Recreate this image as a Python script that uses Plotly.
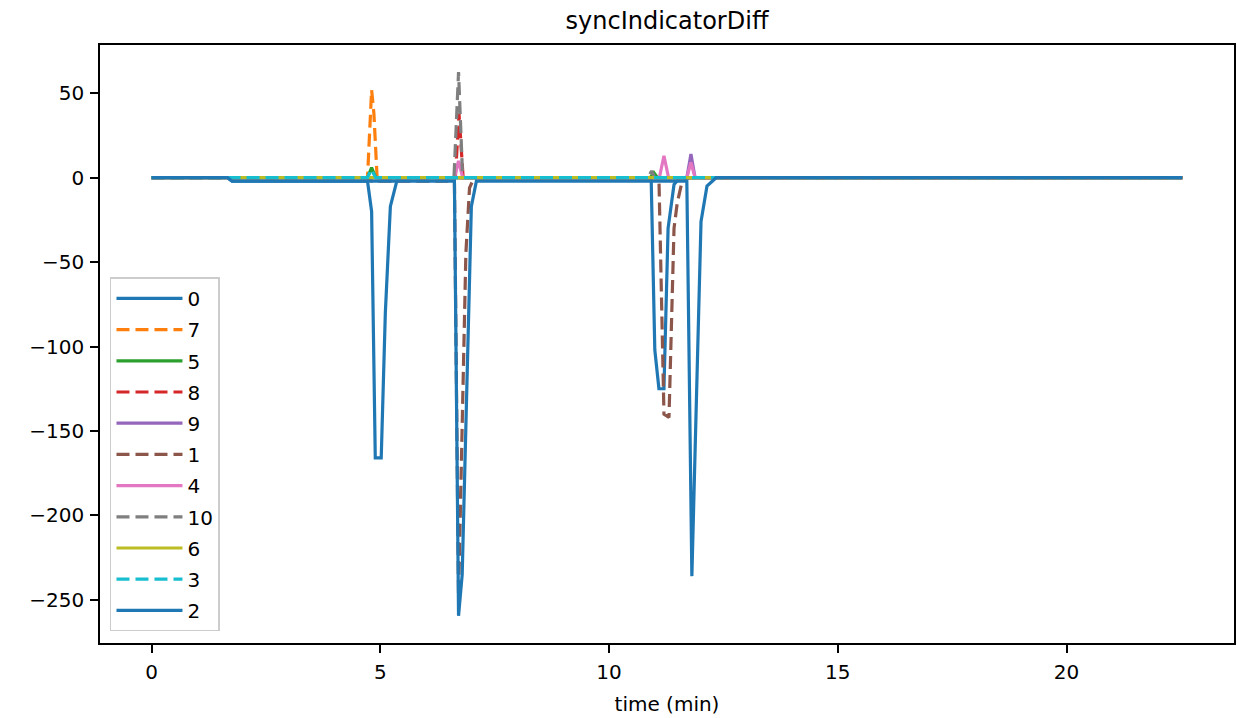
import plotly.graph_objects as go

# ---- data (time in minutes, breakpoints) ----
names = ["0", "7", "5", "8", "9", "1", "4", "10", "6", "3", "2"]

t_0 = [0, 1.66, 1.76, 4.72, 4.81, 4.89, 5.02, 5.11, 5.22, 5.38, 10.92, 11.00, 11.09, 11.20, 11.29, 11.42, 11.55, 22.53]
v_0 = [0, 0, -2, -2, -20, -166, -166, -80, -17, 0, 0, -102, -125, -125, -30, -4, 0, 0]

t_7 = [0, 4.72, 4.81, 4.86, 4.93, 22.53]
v_7 = [0, 0, 52, 38, 0, 0]

t_5 = [0, 4.72, 4.81, 4.90, 10.90, 10.98, 11.06, 22.53]
v_5 = [0, 0, 6, 0, 0, 3, 0, 0]

t_8 = [0, 6.64, 6.72, 6.81, 22.53]
v_8 = [0, 0, 38, 0, 0]

t_9 = [0, 11.70, 11.79, 11.88, 22.53]
v_9 = [0, 0, 14, 0, 0]

t_1 = [0, 4.72, 4.81, 6.62, 6.71, 6.87, 6.95, 7.05, 11.09, 11.20, 11.31, 11.42, 11.49, 11.59, 11.70, 22.53]
v_1 = [0, 0, -2, -2, -248, -45, -6, 0, 0, -140, -142, -30, -15, -3, 0, 0]

t_4 = [0, 6.62, 6.71, 6.80, 11.10, 11.20, 11.30, 11.70, 11.79, 11.88, 22.53]
v_4 = [0, 0, 10, 0, 0, 13, 0, 0, 9, 0, 0]

t_10 = [0, 6.61, 6.71, 6.80, 10.85, 10.93, 11.00, 22.53]
v_10 = [0, 0, 62.5, 0, 0, 4, 0, 0]

t_6 = [0, 22.53]
v_6 = [0, 0]

t_3 = [0, 4.72, 4.80, 4.90, 22.53]
v_3 = [0, 0, 5, 0, 0]

t_2 = [0, 1.66, 1.76, 6.62, 6.71, 6.79, 6.99, 7.10, 11.70, 11.81, 12.01, 12.14, 12.34, 22.53]
v_2 = [0, 0, -2, -2, -259.5, -235, -17, -2, -2, -236, -26, -5, 0, 0]

series_t = [t_0, t_7, t_5, t_8, t_9, t_1, t_4, t_10, t_6, t_3, t_2]
series_v = [v_0, v_7, v_5, v_8, v_9, v_1, v_4, v_10, v_6, v_3, v_2]

x_ticks = [0, 5, 10, 15, 20]
y_ticks = [-250, -200, -150, -100, -50, 0, 50]

# ---- styles ----
colors = ["#1f77b4", "#ff7f0e", "#2ca02c", "#d62728", "#9467bd", "#8c564b",
          "#e377c2", "#7f7f7f", "#bcbd22", "#17becf", "#1f77b4"]
dashes = ["solid", "13px,6px"] * 5 + ["solid"]

FONT = "DejaVu Sans"

fig = go.Figure()
for name, t, v, c, d in zip(names, series_t, series_v, colors, dashes):
    fig.add_trace(go.Scatter(
        x=t, y=v, mode="lines", name=name, legendgroup=name,
        line=dict(color=c, width=3.2, dash=d),
    ))

axis_common = dict(
    showline=True, linecolor="black", linewidth=1.6, mirror=True,
    ticks="outside", ticklen=8, tickwidth=1.6, tickcolor="black",
    showgrid=False, zeroline=False, ticklabelstandoff=2,
    tickfont=dict(family=FONT, size=20, color="black"),
)

fig.update_layout(
    width=1237, height=718,
    margin=dict(l=100, r=1, t=45, b=75),
    paper_bgcolor="white", plot_bgcolor="white",
    font=dict(family=FONT, size=20, color="black"),
    title=dict(text="syncIndicatorDiff", x=0.5, xref="paper", xanchor="center",
               y=1 - 21 / 718, yref="container", yanchor="middle",
               font=dict(family=FONT, size=24, color="black")),
    xaxis=dict(range=[-1.127, 23.66], tickvals=x_ticks,
               title=dict(text="time (min)", standoff=14,
                          font=dict(family=FONT, size=20, color="black")),
               **axis_common),
    yaxis=dict(range=[-275.6, 78.6], tickvals=y_ticks,
               ticktext=[("\u2212" + str(-v)) if v < 0 else str(v) for v in y_ticks],
               **axis_common),
    legend=dict(x=0.0088, y=0.0194, xanchor="left", yanchor="bottom",
                bgcolor="white", bordercolor="#cccccc", borderwidth=1.5,
                font=dict(family=FONT, size=20, color="black"),
                tracegroupgap=2.2, itemwidth=66),
    showlegend=True,
)

fig.write_html("out.html", config={"displayModeBar": False},
               post_script="document.body.style.margin='0px';")
